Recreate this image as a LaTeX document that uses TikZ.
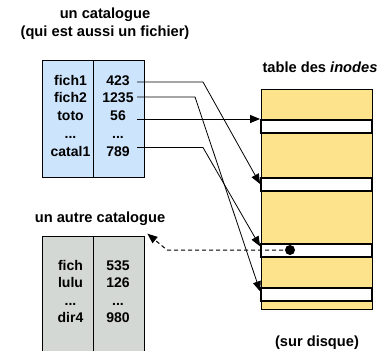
\documentclass[tikz,border=0pt]{standalone}
\usepackage{fontspec}
\setmainfont{Liberation Sans}
\usepackage{xcolor}
\usetikzlibrary{arrows.meta}

\definecolor{catblue}{RGB}{204,228,252}
\definecolor{catgray}{RGB}{212,216,212}
\definecolor{inodeyellow}{RGB}{253,228,140}

\tikzset{
  ttl/.style={inner sep=0.75pt, font=\bfseries\fontsize{11}{13}\selectfont},
  entry/.style={inner sep=0.75pt, anchor=base, font=\bfseries\fontsize{10.5}{12}\selectfont},
  catbox/.style={draw, line width=0.8pt, anchor=north west, minimum width=77pt, minimum height=87.5pt, inner sep=0pt},
  slot/.style={draw, line width=1.5pt, fill=white, minimum width=83pt, minimum height=9.75pt, inner sep=0pt},
  ptr/.style={-{Triangle[length=7.5pt,width=6pt]}, line width=0.6pt},
}

\begin{document}
\begin{tikzpicture}[x=0.75pt,y=0.75pt,yscale=-1,xscale=1]
\useasboundingbox (0,0) rectangle (378,350);

%Shape: catalogue boxes
\node [catbox, fill=catblue] (cat) at (41.7,60) {};
\draw [line width=0.8pt] (cat.north) -- (cat.south);
\node [catbox, fill=catgray] (cat2) at (41.7,235.7) {};
\draw [line width=0.8pt] (cat2.north) -- (cat2.south);

%Shape: table des inodes
\node [draw, line width=0.6pt, fill=inodeyellow, anchor=north west, minimum width=83pt, minimum height=164.4pt, inner sep=0pt] (itab) at (261,89.3) {};
\node [slot] (s1) at (316.4,126.5) {};
\node [slot] (s2) at (316.4,184.8) {};
\node [slot] (s3) at (316.4,250.5) {};
\node [slot] (s4) at (316.4,294.2) {};

% Text Node
\node [ttl] (t1) at (105,15) {un catalogue};
\node [ttl] (t2) at (105,33) {(qui est aussi un fichier)};
\node [ttl] (t3) at (100,219) {un autre catalogue};
\node [ttl] (t4) at (320,67) {table des \textit{inodes}};
\node [ttl] (t5) at (317,343) {(sur disque)};

% Text Node: premier catalogue
\node [entry] (f1) at (70.5,85) {fich1};
\node [entry] (f2) at (70.5,102.9) {fich2};
\node [entry] (f3) at (70.5,120.8) {toto};
\node [entry] (f4) at (70.5,138.7) {...};
\node [entry] (f5) at (70.5,156.6) {catal1};
\node [entry] (n1) at (118,85) {423};
\node [entry] (n2) at (118,102.9) {1235};
\node [entry] (n3) at (118,120.8) {56};
\node [entry] (n4) at (118,138.7) {...};
\node [entry] (n5) at (118,156.6) {789};

% Text Node: autre catalogue
\node [entry] (g1) at (70.5,270) {fich};
\node [entry] (g2) at (70.5,287.5) {lulu};
\node [entry] (g3) at (70.5,305) {...};
\node [entry] (g4) at (70.5,322) {dir4};
\node [entry] (m1) at (118,270) {535};
\node [entry] (m2) at (118,287.5) {126};
\node [entry] (m3) at (118,305) {...};
\node [entry] (m4) at (118,322) {980};

%Straight Lines: pointeurs vers les inodes
\coordinate (p1) at (137,82);
\coordinate (p2) at (137,97);
\coordinate (p3) at (137,119);
\coordinate (p4) at (137,147.5);
\draw [ptr] (p1) -- (203,82) -- ([yshift=5pt]s2.north west);
\draw [ptr] (p2) -- (195,97) -- ([yshift=3.5pt]s4.north west);
\draw [ptr] (p3) -- (s1.north west);
\draw [ptr] (p4) -- (203,147.5) -- ([yshift=2.5pt]s3.north west);

%Shape: inode du catalogue
\node [circle, fill=black, inner sep=0pt, minimum size=7.5pt] (dot) at (290,250) {};
\draw [ptr, line width=0.75pt, dash pattern={on 3pt off 2.25pt}] (dot.center) -- (167,250) -- ([shift={(1.5pt,-1.5pt)}]cat2.north east);
\end{tikzpicture}
\end{document}
